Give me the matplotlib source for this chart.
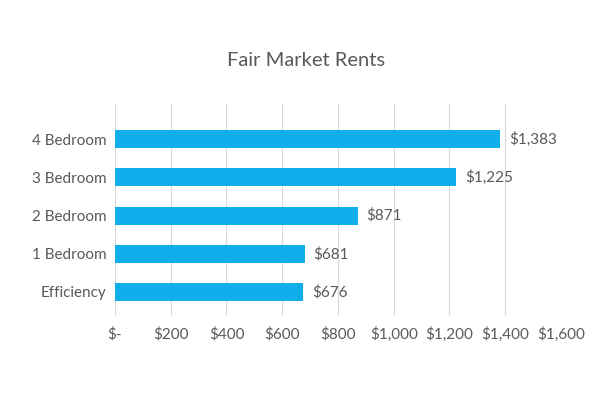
import matplotlib
matplotlib.use("Agg")
import matplotlib.pyplot as plt

categories = ["Efficiency", "1 Bedroom", "2 Bedroom", "3 Bedroom", "4 Bedroom"]
rents = [676, 681, 871, 1225, 1383]
x_ticks = [0, 200, 400, 600, 800, 1000, 1200, 1400, 1600]
x_tick_labels = ["$-", "$200", "$400", "$600", "$800", "$1,000", "$1,200", "$1,400", "$1,600"]

plt.rcParams["font.family"] = ["Lato", "DejaVu Sans"]
text_color = "#595959"

fig = plt.figure(figsize=(6.13, 3.96), dpi=100)
ax = fig.add_axes([0.1876, 0.202, 0.915 - 0.1876, 0.535])

ax.barh(range(len(categories)), rents, height=0.47, color="#0EAFEB", zorder=3)
for i, v in enumerate(rents):
    ax.text(v + 30, i, "${:,}".format(v), va="center", ha="left", fontsize=11, color=text_color)

ax.set_xlim(0, 1600)
ax.set_ylim(-0.63, 4.92)
ax.set_xticks(x_ticks)
ax.set_xticklabels(x_tick_labels)
ax.set_yticks(range(len(categories)))
ax.set_yticklabels(categories)
ax.tick_params(axis="both", length=0, labelsize=11, labelcolor=text_color)
ax.tick_params(axis="x", pad=8)
ax.tick_params(axis="y", pad=6)
ax.grid(axis="x", color="#d9d9d9", linewidth=0.8, zorder=0)
for s in ax.spines.values():
    s.set_visible(False)

fig.text(0.5, 1 - 61 / 396, "Fair Market Rents", ha="center", va="center", fontsize=14.5, color=text_color)

plt.savefig("out.png", dpi=100)
